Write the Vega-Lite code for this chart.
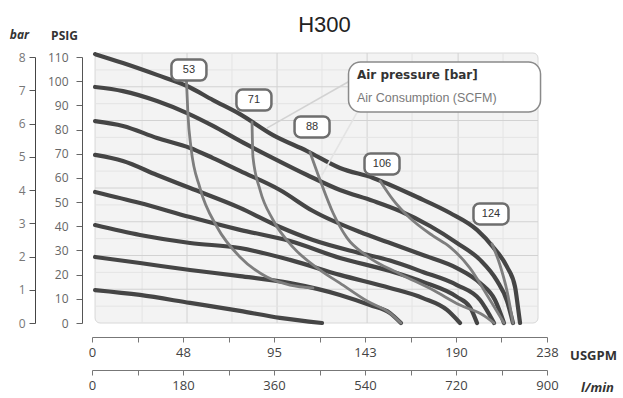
{
  "$schema": "https://vega.github.io/schema/vega-lite/v6.json",
  "width": 455,
  "height": 266,
  "autosize": "none",
  "padding": {"left": 92, "top": 57, "right": 76, "bottom": 75},
  "background": "white",
  "title": {"text": "H300", "frame": "group", "anchor": "middle", "dx": 5, "offset": -26, "baseline": "alphabetic", "fontSize": 22, "font": "Liberation Sans", "fontWeight": "normal", "color": "#222"},
  "config": {"view": {"stroke": null}, "axis": {"grid": false}},
  "datasets": {
    "curves": [
      {"s": "8 bar", "t": "pressure", "u": 1.6, "p": 111.2}, {"s": "8 bar", "t": "pressure", "u": 16.2, "p": 107.5}, {"s": "8 bar", "t": "pressure", "u": 34.0, "p": 102.6}, {"s": "8 bar", "t": "pressure", "u": 49.7, "p": 98.0}, {"s": "8 bar", "t": "pressure", "u": 63.3, "p": 92.2}, {"s": "8 bar", "t": "pressure", "u": 77.4, "p": 86.4}, {"s": "8 bar", "t": "pressure", "u": 94.7, "p": 77.7}, {"s": "8 bar", "t": "pressure", "u": 112.5, "p": 71.1}, {"s": "8 bar", "t": "pressure", "u": 129.7, "p": 64.1}, {"s": "8 bar", "t": "pressure", "u": 147.0, "p": 60.0}, {"s": "8 bar", "t": "pressure", "u": 170.0, "p": 52.1}, {"s": "8 bar", "t": "pressure", "u": 187.3, "p": 45.5}, {"s": "8 bar", "t": "pressure", "u": 201.4, "p": 38.5}, {"s": "8 bar", "t": "pressure", "u": 209.8, "p": 31.4}, {"s": "8 bar", "t": "pressure", "u": 217.1, "p": 23.2}, {"s": "8 bar", "t": "pressure", "u": 221.3, "p": 14.9}, {"s": "8 bar", "t": "pressure", "u": 222.8, "p": 6.6}, {"s": "8 bar", "t": "pressure", "u": 223.9, "p": 0},
      {"s": "7 bar", "t": "pressure", "u": 1.6, "p": 97.6}, {"s": "7 bar", "t": "pressure", "u": 16.2, "p": 95.9}, {"s": "7 bar", "t": "pressure", "u": 34.0, "p": 91.8}, {"s": "7 bar", "t": "pressure", "u": 49.7, "p": 86.8}, {"s": "7 bar", "t": "pressure", "u": 63.3, "p": 81.5}, {"s": "7 bar", "t": "pressure", "u": 77.4, "p": 75.3}, {"s": "7 bar", "t": "pressure", "u": 94.7, "p": 68.2}, {"s": "7 bar", "t": "pressure", "u": 112.5, "p": 61.2}, {"s": "7 bar", "t": "pressure", "u": 129.7, "p": 55.0}, {"s": "7 bar", "t": "pressure", "u": 147.0, "p": 50.5}, {"s": "7 bar", "t": "pressure", "u": 161.1, "p": 46.3}, {"s": "7 bar", "t": "pressure", "u": 176.8, "p": 40.1}, {"s": "7 bar", "t": "pressure", "u": 190.9, "p": 33.1}, {"s": "7 bar", "t": "pressure", "u": 203.0, "p": 26.1}, {"s": "7 bar", "t": "pressure", "u": 211.9, "p": 17.4}, {"s": "7 bar", "t": "pressure", "u": 217.1, "p": 9.1}, {"s": "7 bar", "t": "pressure", "u": 220.2, "p": 0},
      {"s": "6 bar", "t": "pressure", "u": 1.6, "p": 83.5}, {"s": "6 bar", "t": "pressure", "u": 16.2, "p": 81.5}, {"s": "6 bar", "t": "pressure", "u": 34.0, "p": 76.5}, {"s": "6 bar", "t": "pressure", "u": 51.3, "p": 72.4}, {"s": "6 bar", "t": "pressure", "u": 63.3, "p": 68.2}, {"s": "6 bar", "t": "pressure", "u": 77.4, "p": 62.9}, {"s": "6 bar", "t": "pressure", "u": 98.3, "p": 55.0}, {"s": "6 bar", "t": "pressure", "u": 115.6, "p": 46.3}, {"s": "6 bar", "t": "pressure", "u": 140.2, "p": 37.6}, {"s": "6 bar", "t": "pressure", "u": 155.9, "p": 33.1}, {"s": "6 bar", "t": "pressure", "u": 173.1, "p": 28.1}, {"s": "6 bar", "t": "pressure", "u": 190.9, "p": 22.7}, {"s": "6 bar", "t": "pressure", "u": 203.0, "p": 16.5}, {"s": "6 bar", "t": "pressure", "u": 210.8, "p": 9.5}, {"s": "6 bar", "t": "pressure", "u": 215.5, "p": 0},
      {"s": "5 bar", "t": "pressure", "u": 1.6, "p": 69.5}, {"s": "5 bar", "t": "pressure", "u": 16.2, "p": 67.0}, {"s": "5 bar", "t": "pressure", "u": 34.0, "p": 61.2}, {"s": "5 bar", "t": "pressure", "u": 51.3, "p": 55.8}, {"s": "5 bar", "t": "pressure", "u": 77.4, "p": 47.6}, {"s": "5 bar", "t": "pressure", "u": 98.3, "p": 39.7}, {"s": "5 bar", "t": "pressure", "u": 115.6, "p": 34.3}, {"s": "5 bar", "t": "pressure", "u": 140.2, "p": 28.9}, {"s": "5 bar", "t": "pressure", "u": 155.9, "p": 25.8}, {"s": "5 bar", "t": "pressure", "u": 173.1, "p": 21.1}, {"s": "5 bar", "t": "pressure", "u": 190.9, "p": 15.7}, {"s": "5 bar", "t": "pressure", "u": 203.0, "p": 9.5}, {"s": "5 bar", "t": "pressure", "u": 210.3, "p": 0},
      {"s": "4 bar", "t": "pressure", "u": 1.6, "p": 54.2}, {"s": "4 bar", "t": "pressure", "u": 25.1, "p": 49.6}, {"s": "4 bar", "t": "pressure", "u": 51.3, "p": 43.8}, {"s": "4 bar", "t": "pressure", "u": 77.4, "p": 38.5}, {"s": "4 bar", "t": "pressure", "u": 103.6, "p": 33.9}, {"s": "4 bar", "t": "pressure", "u": 129.7, "p": 26.9}, {"s": "4 bar", "t": "pressure", "u": 155.9, "p": 21.5}, {"s": "4 bar", "t": "pressure", "u": 173.1, "p": 17.0}, {"s": "4 bar", "t": "pressure", "u": 190.9, "p": 10.8}, {"s": "4 bar", "t": "pressure", "u": 197.7, "p": 6.6}, {"s": "4 bar", "t": "pressure", "u": 201.4, "p": 0},
      {"s": "3 bar", "t": "pressure", "u": 1.6, "p": 40.5}, {"s": "3 bar", "t": "pressure", "u": 25.1, "p": 36.4}, {"s": "3 bar", "t": "pressure", "u": 51.3, "p": 33.1}, {"s": "3 bar", "t": "pressure", "u": 77.4, "p": 31.0}, {"s": "3 bar", "t": "pressure", "u": 103.6, "p": 26.1}, {"s": "3 bar", "t": "pressure", "u": 129.7, "p": 19.9}, {"s": "3 bar", "t": "pressure", "u": 155.9, "p": 14.5}, {"s": "3 bar", "t": "pressure", "u": 173.1, "p": 10.3}, {"s": "3 bar", "t": "pressure", "u": 185.7, "p": 5.4}, {"s": "3 bar", "t": "pressure", "u": 192.5, "p": 0},
      {"s": "2 bar", "t": "pressure", "u": 1.6, "p": 27.3}, {"s": "2 bar", "t": "pressure", "u": 25.1, "p": 24.8}, {"s": "2 bar", "t": "pressure", "u": 51.3, "p": 21.9}, {"s": "2 bar", "t": "pressure", "u": 77.4, "p": 19.4}, {"s": "2 bar", "t": "pressure", "u": 103.6, "p": 16.5}, {"s": "2 bar", "t": "pressure", "u": 129.7, "p": 11.6}, {"s": "2 bar", "t": "pressure", "u": 145.4, "p": 7.4}, {"s": "2 bar", "t": "pressure", "u": 155.9, "p": 4.1}, {"s": "2 bar", "t": "pressure", "u": 161.6, "p": 0},
      {"s": "1 bar", "t": "pressure", "u": 1.6, "p": 13.6}, {"s": "1 bar", "t": "pressure", "u": 25.1, "p": 11.6}, {"s": "1 bar", "t": "pressure", "u": 51.3, "p": 8.3}, {"s": "1 bar", "t": "pressure", "u": 77.4, "p": 5.0}, {"s": "1 bar", "t": "pressure", "u": 98.3, "p": 2.1}, {"s": "1 bar", "t": "pressure", "u": 120.3, "p": 0},
      {"s": "53", "t": "air", "u": 49.4, "p": 100.3}, {"s": "53", "t": "air", "u": 50.2, "p": 86.0}, {"s": "53", "t": "air", "u": 51.8, "p": 72.4}, {"s": "53", "t": "air", "u": 56.5, "p": 55.8}, {"s": "53", "t": "air", "u": 65.4, "p": 39.7}, {"s": "53", "t": "air", "u": 77.4, "p": 27.3}, {"s": "53", "t": "air", "u": 91.5, "p": 19.0}, {"s": "53", "t": "air", "u": 103.6, "p": 15.7}, {"s": "53", "t": "air", "u": 115.6, "p": 14.5},
      {"s": "71", "t": "air", "u": 83.7, "p": 83.1}, {"s": "71", "t": "air", "u": 84.2, "p": 68.6}, {"s": "71", "t": "air", "u": 87.9, "p": 55.0}, {"s": "71", "t": "air", "u": 94.7, "p": 42.6}, {"s": "71", "t": "air", "u": 105.1, "p": 31.4}, {"s": "71", "t": "air", "u": 119.3, "p": 21.9}, {"s": "71", "t": "air", "u": 129.7, "p": 16.5}, {"s": "71", "t": "air", "u": 143.9, "p": 9.1}, {"s": "71", "t": "air", "u": 155.9, "p": 4.1}, {"s": "71", "t": "air", "u": 161.6, "p": 0},
      {"s": "88", "t": "air", "u": 114.0, "p": 70.7}, {"s": "88", "t": "air", "u": 119.3, "p": 59.1}, {"s": "88", "t": "air", "u": 126.1, "p": 45.5}, {"s": "88", "t": "air", "u": 133.4, "p": 35.2}, {"s": "88", "t": "air", "u": 143.9, "p": 27.7}, {"s": "88", "t": "air", "u": 161.1, "p": 20.3}, {"s": "88", "t": "air", "u": 178.4, "p": 13.6}, {"s": "88", "t": "air", "u": 192.5, "p": 7.4}, {"s": "88", "t": "air", "u": 204.5, "p": 3.3}, {"s": "88", "t": "air", "u": 210.3, "p": 0},
      {"s": "106", "t": "air", "u": 150.7, "p": 58.7}, {"s": "106", "t": "air", "u": 157.5, "p": 50.9}, {"s": "106", "t": "air", "u": 166.3, "p": 43.4}, {"s": "106", "t": "air", "u": 178.4, "p": 36.0}, {"s": "106", "t": "air", "u": 187.3, "p": 31.4}, {"s": "106", "t": "air", "u": 197.7, "p": 22.7}, {"s": "106", "t": "air", "u": 206.6, "p": 11.6}, {"s": "106", "t": "air", "u": 215.5, "p": 0},
      {"s": "124", "t": "air", "u": 209.2, "p": 32.7}, {"s": "124", "t": "air", "u": 213.4, "p": 24.0}, {"s": "124", "t": "air", "u": 217.1, "p": 13.2}, {"s": "124", "t": "air", "u": 220.2, "p": 0}
    ],
    "gridv": [
      {"u": 26.2, "w": "minor"}, {"u": 49.7, "w": "major"}, {"u": 73.2, "w": "minor"}, {"u": 96.8, "w": "major"}, {"u": 120.3, "w": "minor"}, {"u": 143.9, "w": "major"}, {"u": 167.4, "w": "minor"}, {"u": 191.5, "w": "major"}, {"u": 215.0, "w": "minor"}
    ],
    "gridh": [
      {"p": 6.98, "w": "minor"}, {"p": 13.96, "w": "major"}, {"p": 20.93, "w": "minor"}, {"p": 27.91, "w": "major"}, {"p": 34.89, "w": "minor"}, {"p": 41.87, "w": "major"}, {"p": 48.85, "w": "minor"}, {"p": 55.82, "w": "major"}, {"p": 62.8, "w": "minor"}, {"p": 69.78, "w": "major"}, {"p": 76.76, "w": "minor"}, {"p": 83.74, "w": "major"}, {"p": 90.71, "w": "minor"}, {"p": 97.69, "w": "major"}, {"p": 104.67, "w": "minor"}
    ],
    "leaders": [
      {"u": 91.5, "p": 80.6, "u2": 137.6, "p2": 101.3, "t": "pressure"},
      {"u": 120.3, "p": 61.2, "u2": 139.1, "p2": 87.7, "t": "air"}
    ],
    "boxes": [
      {"u": 50.7, "p": 104.6, "label": "53"},
      {"u": 84.7, "p": 92.2, "label": "71"},
      {"u": 115.1, "p": 81.1, "label": "88"},
      {"u": 151.7, "p": 65.8, "label": "106"},
      {"u": 208.7, "p": 45.1, "label": "124"}
    ]
  },
  "layer": [
    {
      "layer": [
        {
          "data": {"values": [{"u1": 1.6, "u2": 233.3, "p1": 0, "p2": 111.65}]},
          "mark": {"type": "rect", "fill": "#f3f3f3", "stroke": "#d8d8d8", "strokeWidth": 1, "cornerRadius": 5},
          "encoding": {
            "x": {"field": "u1", "type": "quantitative", "scale": {"domain": [0, 238], "nice": false, "zero": false}, "axis": null},
            "x2": {"field": "u2"},
            "y": {"field": "p1", "type": "quantitative", "scale": {"domain": [0, 110], "nice": false, "zero": false}, "axis": null},
            "y2": {"field": "p2"}
          }
        },
        {
          "data": {"name": "gridv"},
          "mark": {"type": "rule", "strokeWidth": 1},
          "encoding": {
            "x": {"field": "u", "type": "quantitative", "scale": {"domain": [0, 238], "nice": false, "zero": false}, "axis": null},
            "y": {"datum": 0, "type": "quantitative", "scale": {"domain": [0, 110], "nice": false, "zero": false}, "axis": null},
            "y2": {"datum": 111.65},
            "stroke": {"field": "w", "type": "nominal", "scale": {"domain": ["major", "minor"], "range": ["#d2d2d2", "#e4e4e4"]}, "legend": null}
          }
        },
        {
          "data": {"name": "gridh"},
          "mark": {"type": "rule", "strokeWidth": 1},
          "encoding": {
            "y": {"field": "p", "type": "quantitative", "scale": {"domain": [0, 110], "nice": false, "zero": false}, "axis": null},
            "x": {"datum": 1.6, "type": "quantitative", "scale": {"domain": [0, 238], "nice": false, "zero": false}, "axis": null},
            "x2": {"datum": 233.3},
            "stroke": {"field": "w", "type": "nominal", "scale": {"domain": ["major", "minor"], "range": ["#d2d2d2", "#e4e4e4"]}, "legend": null}
          }
        },
        {
          "data": {"name": "curves"},
          "transform": [{"filter": "datum.t == 'pressure'"}],
          "mark": {"type": "line", "interpolate": "monotone", "stroke": "#454545", "strokeWidth": 4.2, "strokeCap": "round"},
          "encoding": {
            "x": {"field": "u", "type": "quantitative", "scale": {"domain": [0, 238], "nice": false, "zero": false}, "axis": null},
            "y": {"field": "p", "type": "quantitative", "scale": {"domain": [0, 110], "nice": false, "zero": false}, "axis": null},
            "detail": {"field": "s", "type": "nominal"}
          }
        },
        {
          "data": {"name": "curves"},
          "transform": [{"filter": "datum.t == 'air'"}],
          "mark": {"type": "line", "interpolate": "monotone", "stroke": "#7e7e7e", "strokeWidth": 2.8, "strokeCap": "round"},
          "encoding": {
            "x": {"field": "u", "type": "quantitative", "scale": {"domain": [0, 238], "nice": false, "zero": false}, "axis": null},
            "y": {"field": "p", "type": "quantitative", "scale": {"domain": [0, 110], "nice": false, "zero": false}, "axis": null},
            "detail": {"field": "s", "type": "nominal"}
          }
        },
        {
          "data": {"name": "leaders"},
          "mark": {"type": "rule", "strokeWidth": 1.6},
          "encoding": {
            "x": {"field": "u", "type": "quantitative", "scale": {"domain": [0, 238], "nice": false, "zero": false}, "axis": null},
            "y": {"field": "p", "type": "quantitative", "scale": {"domain": [0, 110], "nice": false, "zero": false}, "axis": null},
            "x2": {"field": "u2"},
            "y2": {"field": "p2"},
            "stroke": {"field": "t", "type": "nominal", "scale": {"domain": ["pressure", "air"], "range": ["#333333", "#808080"]}, "legend": null}
          }
        },
        {
          "data": {"values": [{"u": 184.4, "p": 97.6}]},
          "mark": {"type": "point", "filled": false, "fill": "white", "fillOpacity": 1, "stroke": "#8a8a8a", "strokeWidth": 1.5, "opacity": 1, "size": 36864, "shape": "M -0.875,-0.2604 L 0.875,-0.2604 A 0.125,0.125 0 0 1 1,-0.1354 L 1,0.1354 A 0.125,0.125 0 0 1 0.875,0.2604 L -0.875,0.2604 A 0.125,0.125 0 0 1 -1,0.1354 L -1,-0.1354 A 0.125,0.125 0 0 1 -0.875,-0.2604 Z"},
          "encoding": {
            "x": {"field": "u", "type": "quantitative", "scale": {"domain": [0, 238], "nice": false, "zero": false}, "axis": null},
            "y": {"field": "p", "type": "quantitative", "scale": {"domain": [0, 110], "nice": false, "zero": false}, "axis": null}
          }
        },
        {
          "data": {"values": [{"u": 138.6, "p": 102.6, "text": "Air pressure [bar]"}]},
          "mark": {"type": "text", "align": "left", "baseline": "middle", "font": "DejaVu Sans", "fontWeight": "bold", "fontSize": 12, "color": "#333"},
          "encoding": {
            "x": {"field": "u", "type": "quantitative", "scale": {"domain": [0, 238], "nice": false, "zero": false}, "axis": null},
            "y": {"field": "p", "type": "quantitative", "scale": {"domain": [0, 110], "nice": false, "zero": false}, "axis": null},
            "text": {"field": "text"}
          }
        },
        {
          "data": {"values": [{"u": 138.6, "p": 93.0, "text": "Air Consumption (SCFM)"}]},
          "mark": {"type": "text", "align": "left", "baseline": "middle", "font": "Liberation Sans", "fontSize": 12.5, "color": "#7a7a7a"},
          "encoding": {
            "x": {"field": "u", "type": "quantitative", "scale": {"domain": [0, 238], "nice": false, "zero": false}, "axis": null},
            "y": {"field": "p", "type": "quantitative", "scale": {"domain": [0, 110], "nice": false, "zero": false}, "axis": null},
            "text": {"field": "text"}
          }
        },
        {
          "data": {"name": "boxes"},
          "mark": {"type": "point", "filled": false, "fill": "white", "fillOpacity": 1, "stroke": "#6e6e6e", "strokeWidth": 2.5, "opacity": 1, "size": 1225, "shape": "M -0.657,-0.6 L 0.657,-0.6 A 0.343,0.343 0 0 1 1,-0.257 L 1,0.257 A 0.343,0.343 0 0 1 0.657,0.6 L -0.657,0.6 A 0.343,0.343 0 0 1 -1,0.257 L -1,-0.257 A 0.343,0.343 0 0 1 -0.657,-0.6 Z"},
          "encoding": {
            "x": {"field": "u", "type": "quantitative", "scale": {"domain": [0, 238], "nice": false, "zero": false}, "axis": null},
            "y": {"field": "p", "type": "quantitative", "scale": {"domain": [0, 110], "nice": false, "zero": false}, "axis": null}
          }
        },
        {
          "data": {"name": "boxes"},
          "mark": {"type": "text", "align": "center", "baseline": "middle", "font": "Liberation Sans", "fontSize": 11, "color": "#333"},
          "encoding": {
            "x": {"field": "u", "type": "quantitative", "scale": {"domain": [0, 238], "nice": false, "zero": false}, "axis": null},
            "y": {"field": "p", "type": "quantitative", "scale": {"domain": [0, 110], "nice": false, "zero": false}, "axis": null},
            "text": {"field": "label"}
          }
        }
      ]
    },
    {
      "data": {"values": [{"psig": 0}, {"psig": 110}]},
      "mark": {"type": "point", "opacity": 0},
      "encoding": {
        "y": {
          "field": "psig", "type": "quantitative", "scale": {"domain": [0, 110], "nice": false, "zero": false},
          "axis": {"orient": "left", "offset": 10, "values": [0, 10, 20, 30, 40, 50, 60, 70, 80, 90, 100, 110], "title": "PSIG", "titleAngle": 0, "titleX": -18, "titleY": -22, "titleAlign": "center", "titleBaseline": "middle", "titleFont": "Open Sans", "titleFontWeight": "bold", "titleFontSize": 12, "titleColor": "#333", "labelFont": "Open Sans", "labelFontSize": 12, "labelColor": "#666", "tickSize": 6, "tickColor": "#666", "domainColor": "#555", "labelPadding": 8, "labelOverlap": false, "labelFlush": false}
        }
      }
    },
    {
      "data": {"values": [{"bar": 0}, {"bar": 8}]},
      "mark": {"type": "point", "opacity": 0},
      "encoding": {
        "y": {
          "field": "bar", "type": "quantitative", "scale": {"domain": [0, 8], "nice": false, "zero": false},
          "axis": {"orient": "left", "offset": 57, "values": [0, 1, 2, 3, 4, 5, 6, 7, 8], "title": "bar", "titleAngle": 0, "titleX": -16, "titleY": -23, "titleAlign": "center", "titleBaseline": "middle", "titleFont": "Open Sans", "titleFontWeight": "bold", "titleFontStyle": "italic", "titleFontSize": 12, "titleColor": "#333", "labelFont": "Open Sans", "labelFontSize": 12, "labelColor": "#777", "tickSize": 6, "tickColor": "#555", "domainColor": "#444", "labelPadding": 4, "labelOverlap": false, "labelFlush": false}
        }
      }
    },
    {
      "data": {"values": [{"usgpm": 0}, {"usgpm": 238}]},
      "mark": {"type": "point", "opacity": 0},
      "encoding": {
        "x": {
          "field": "usgpm", "type": "quantitative", "scale": {"domain": [0, 238], "nice": false, "zero": false},
          "axis": {"orient": "bottom", "offset": 14, "values": [0, 23.8, 47.6, 71.4, 95.2, 119, 142.8, 166.6, 190.4, 214.2, 238], "labelExpr": "round(datum.value / 23.8) % 2 == 0 ? format(datum.value, '.0f') : ''", "title": "USGPM", "titleX": 501, "titleY": 18, "titleAlign": "center", "titleBaseline": "middle", "titleFont": "Open Sans", "titleFontWeight": "bold", "titleFontSize": 13, "titleColor": "#333", "labelFont": "Open Sans", "labelFontSize": 13, "labelColor": "#444", "tickSize": 5, "tickColor": "#777", "domainColor": "#777", "labelPadding": 4, "labelOverlap": false, "labelFlush": false}
        }
      }
    },
    {
      "data": {"values": [{"lmin": 0}, {"lmin": 900}]},
      "mark": {"type": "point", "opacity": 0},
      "encoding": {
        "x": {
          "field": "lmin", "type": "quantitative", "scale": {"domain": [0, 900], "nice": false, "zero": false},
          "axis": {"orient": "bottom", "offset": 47, "values": [0, 90, 180, 270, 360, 450, 540, 630, 720, 810, 900], "labelExpr": "datum.value % 180 == 0 ? format(datum.value, '.0f') : ''", "title": "l/min", "titleX": 505, "titleY": 17, "titleAlign": "center", "titleBaseline": "middle", "titleFont": "Open Sans", "titleFontWeight": "bold", "titleFontStyle": "italic", "titleFontSize": 13, "titleColor": "#333", "labelFont": "Open Sans", "labelFontSize": 13, "labelColor": "#444", "tickSize": 5, "tickColor": "#777", "domainColor": "#777", "labelPadding": 4, "labelOverlap": false, "labelFlush": false}
        }
      }
    }
  ],
  "resolve": {"scale": {"x": "independent", "y": "independent"}, "axis": {"x": "independent", "y": "independent"}}
}
